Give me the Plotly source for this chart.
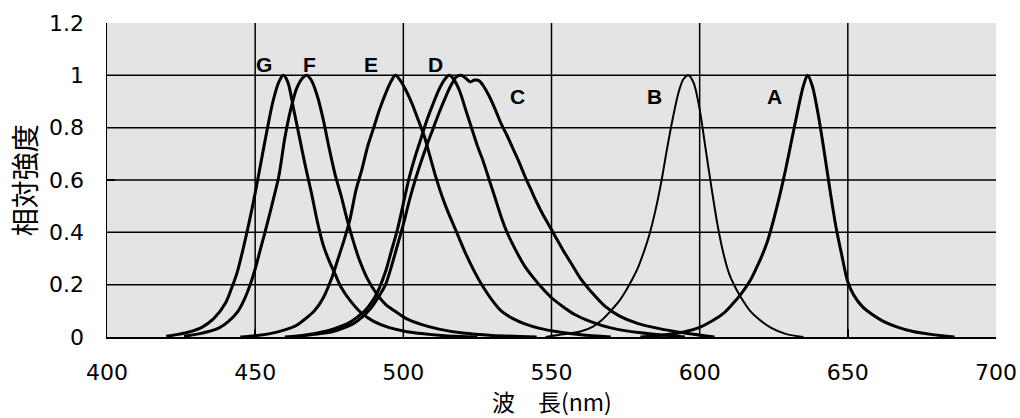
import plotly.graph_objects as go

# ---- data (wavelength nm, relative intensity) ----
A_x = [580, 588, 595, 600, 604, 608, 611, 614, 617, 619, 621, 623, 625, 627, 629, 631, 633, 635, 636.4, 638, 640, 642, 644, 646, 648, 650, 652, 655, 658, 662, 667, 672, 678, 686]
A_y = [0.0, 0.008, 0.02, 0.037, 0.06, 0.09, 0.125, 0.165, 0.215, 0.26, 0.31, 0.37, 0.45, 0.54, 0.64, 0.75, 0.86, 0.96, 1.0, 0.96, 0.85, 0.71, 0.56, 0.42, 0.31, 0.21, 0.16, 0.115, 0.088, 0.06, 0.037, 0.021, 0.01, 0.0]

B_x = [548, 555, 560, 564, 567, 570, 573, 575, 577, 579, 581, 583, 585, 587, 589, 591, 593, 594.5, 596.2, 598, 600, 602, 604, 606, 608, 610, 612, 614, 617, 620, 624, 629, 635]
B_y = [0.0, 0.012, 0.022, 0.04, 0.065, 0.1, 0.14, 0.175, 0.215, 0.26, 0.32, 0.39, 0.48, 0.59, 0.72, 0.84, 0.94, 0.985, 1.0, 0.97, 0.87, 0.72, 0.57, 0.43, 0.32, 0.24, 0.19, 0.15, 0.1, 0.068, 0.036, 0.012, 0.0]

C_x = [462, 470, 476, 480, 483, 486, 489, 492, 494, 496, 498, 500, 502, 504, 506, 508, 510, 512, 514, 516, 518, 519.5, 521, 522.5, 524, 525.5, 527, 529, 531, 533, 535, 537, 539, 541, 543, 545, 547, 549, 551, 554, 557, 560, 564, 568, 573, 579, 586, 595, 605]
C_y = [0.0, 0.01, 0.02, 0.035, 0.05, 0.075, 0.11, 0.16, 0.2, 0.27, 0.35, 0.43, 0.52, 0.6, 0.67, 0.735, 0.795, 0.855, 0.91, 0.96, 0.995, 1.0, 0.99, 0.975, 0.982, 0.98, 0.96, 0.92, 0.87, 0.815, 0.77, 0.72, 0.67, 0.615, 0.565, 0.515, 0.47, 0.43, 0.39, 0.33, 0.275, 0.22, 0.165, 0.118, 0.08, 0.052, 0.033, 0.015, 0.0]

D_x = [460, 467, 473, 477, 481, 484, 487, 490, 492, 494, 496, 498, 500, 502, 504, 506, 508, 510, 512, 514, 515.5, 517, 519, 521, 523, 525, 527, 529, 531, 533, 535, 538, 541, 544, 547, 550, 554, 558, 563, 570, 580, 595]
D_y = [0.0, 0.008, 0.02, 0.033, 0.05, 0.072, 0.1, 0.145, 0.19, 0.25, 0.33, 0.41, 0.51, 0.61, 0.69, 0.76, 0.83, 0.89, 0.945, 0.985, 1.0, 0.985, 0.94, 0.87, 0.8, 0.73, 0.67, 0.6, 0.53, 0.46, 0.4, 0.33, 0.27, 0.225, 0.185, 0.15, 0.115, 0.085, 0.06, 0.035, 0.016, 0.0]

E_x = [445, 450, 455, 460, 464, 467, 470, 473, 476, 478, 480, 482, 484, 486, 488, 490, 492, 494, 496, 497.3, 499, 501, 503, 505, 507, 509, 511, 513, 515, 518, 521, 524, 527, 530, 533, 537, 541, 546, 552, 560, 570]
E_y = [0.0, 0.005, 0.013, 0.027, 0.045, 0.07, 0.1, 0.15, 0.23, 0.3, 0.37, 0.45, 0.56, 0.64, 0.73, 0.8, 0.87, 0.93, 0.98, 1.0, 0.98, 0.94, 0.89, 0.83, 0.77, 0.69, 0.61, 0.54, 0.48, 0.4, 0.32, 0.25, 0.19, 0.14, 0.1, 0.07, 0.05, 0.033, 0.02, 0.009, 0.0]

F_x = [426, 430, 434, 438, 441, 444, 446, 448, 450, 452, 454, 456, 458, 460, 462, 464, 466, 467.4, 469, 471, 473, 475, 477, 479, 481, 483, 485, 488, 491, 494, 497, 501, 506, 512, 520, 530, 545]
F_y = [0.003, 0.01, 0.02, 0.036, 0.06, 0.095, 0.135, 0.19, 0.26, 0.345, 0.43, 0.52, 0.615, 0.76, 0.87, 0.95, 0.99, 1.0, 0.98, 0.92, 0.83, 0.72, 0.62, 0.54, 0.45, 0.37, 0.3, 0.22, 0.165, 0.125, 0.1, 0.07, 0.048, 0.03, 0.015, 0.006, 0.0]

G_x = [420, 424, 428, 432, 436, 440, 442, 444, 446, 448, 450, 452, 454, 456, 458, 459.5, 461, 463, 465, 467, 469, 471, 473, 475, 477, 479, 482, 486, 490, 495, 500, 506, 514, 525]
G_y = [0.003, 0.01, 0.02, 0.037, 0.07, 0.13, 0.185, 0.25, 0.34, 0.44, 0.55, 0.67, 0.79, 0.9, 0.975, 1.0, 0.975, 0.87, 0.76, 0.65, 0.55, 0.44, 0.35, 0.29, 0.24, 0.19, 0.14, 0.09, 0.06, 0.037, 0.023, 0.013, 0.005, 0.0]

series_names = ["A", "B", "C", "D", "E", "F", "G"]
series_x = [A_x, B_x, C_x, D_x, E_x, F_x, G_x]
series_y = [A_y, B_y, C_y, D_y, E_y, F_y, G_y]
series_width = [3, 2, 3, 3, 3, 3, 3]

label_text = ["A", "B", "C", "D", "E", "F", "G"]
label_x = [625.4, 584.9, 538.5, 510.7, 489.1, 468.5, 453.0]
label_y = [0.92, 0.92, 0.92, 1.04, 1.04, 1.04, 1.04]

x_ticks = [400, 450, 500, 550, 600, 650, 700]
y_ticks = [0, 0.2, 0.4, 0.6, 0.8, 1.0, 1.2]
y_tick_text = ["0", "0.2", "0.4", "0.6", "0.8", "1", "1.2"]
grid_x = [450, 500, 550, 600, 650]
grid_y = [0.2, 0.4, 0.6, 0.8, 1.0]

x_title = "波\u3000長(nm)"
y_title = "相対強度"

NUM_FONT = "DejaVu Sans, Liberation Sans, sans-serif"
LBL_FONT = "Liberation Sans, Arial, sans-serif"
CJK_FONT = "Noto Sans CJK JP, Liberation Sans, sans-serif"

fig = go.Figure()
for name, xs, ys, w in zip(series_names, series_x, series_y, series_width):
    fig.add_trace(go.Scatter(x=xs, y=ys, mode="lines", name=name,
                             line=dict(color="black", width=w, shape="spline", smoothing=0.8),
                             showlegend=False, hoverinfo="skip"))

shapes = []
for gx in grid_x:
    shapes.append(dict(type="line", xref="x", yref="y", x0=gx, x1=gx, y0=0, y1=1.2,
                       line=dict(color="black", width=1.5), layer="below"))
for gy in grid_y:
    shapes.append(dict(type="line", xref="x", yref="y", x0=400, x1=700, y0=gy, y1=gy,
                       line=dict(color="black", width=1.5), layer="below"))

annotations = []
for t, lx, ly in zip(label_text, label_x, label_y):
    annotations.append(dict(x=lx, y=ly, xref="x", yref="y", text="<b>" + t + "</b>", showarrow=False,
                            font=dict(family=LBL_FONT, size=21, color="black")))
annotations.append(dict(x=0.5, y=-0.205, xref="paper", yref="paper", text=x_title, showarrow=False,
                        xanchor="center", yanchor="middle",
                        font=dict(family=CJK_FONT, size=23, color="black")))
annotations.append(dict(x=-0.093, y=0.5, xref="paper", yref="paper", text=y_title, showarrow=False,
                        xanchor="center", yanchor="middle", textangle=-90,
                        font=dict(family=CJK_FONT, size=28, color="black")))

fig.update_layout(
    width=1020, height=418,
    margin=dict(l=107, r=24, t=23, b=81, autoexpand=False),
    paper_bgcolor="white",
    plot_bgcolor="#e4e4e4",
    shapes=shapes,
    annotations=annotations,
    font=dict(family=NUM_FONT, color="black"),
    xaxis=dict(range=[400, 700], tickvals=x_ticks, ticktext=[str(v) for v in x_ticks],
               showgrid=False, zeroline=False, showline=True, linecolor="black", linewidth=1.5,
               ticks="inside", ticklen=8, tickcolor="black", tickwidth=1.5, automargin=False,
               tickfont=dict(family=NUM_FONT, size=22, color="black"), ticklabelstandoff=15),
    yaxis=dict(range=[0, 1.2], tickvals=y_ticks, ticktext=y_tick_text,
               showgrid=False, zeroline=False, showline=True, linecolor="black", linewidth=1.5,
               ticks="inside", ticklen=8, tickcolor="black", tickwidth=1.5, automargin=False,
               tickfont=dict(family=NUM_FONT, size=22, color="black"), ticklabelstandoff=17),
)

fig.write_html("out.html", config={"displayModeBar": False, "staticPlot": True},
               post_script="document.body.style.margin='0';document.body.style.padding='0';document.body.style.overflow='hidden';")
